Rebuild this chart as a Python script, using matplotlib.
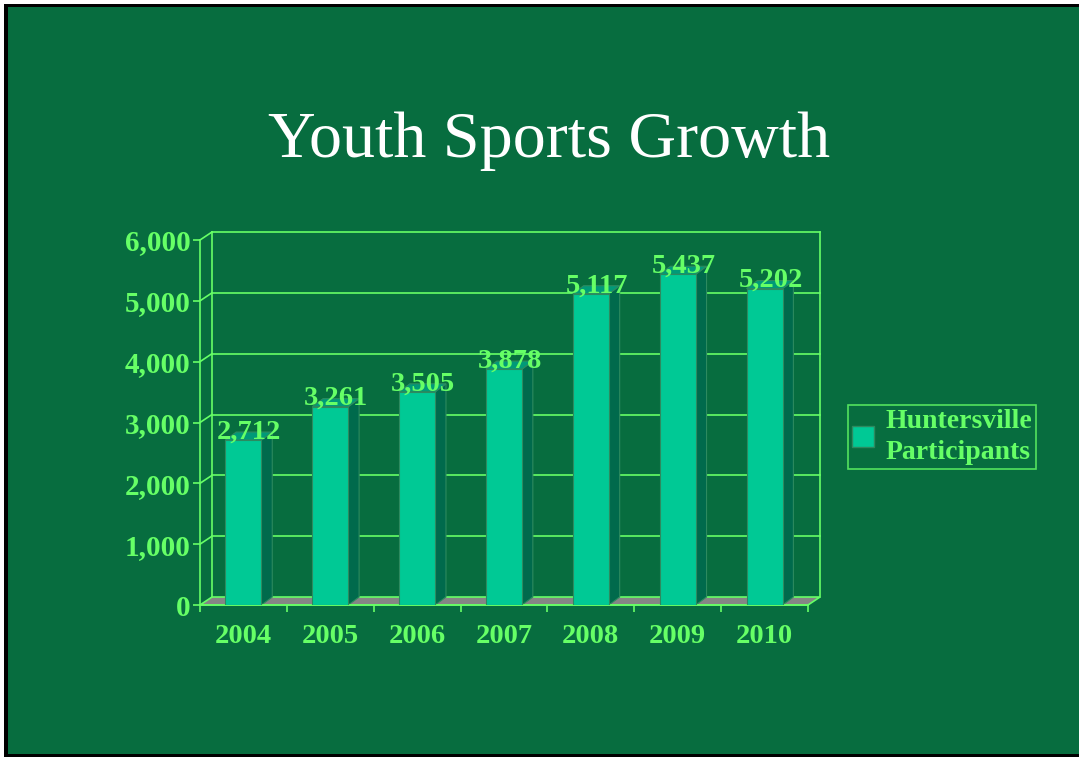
import matplotlib.pyplot as plt
from matplotlib.patches import Polygon, Rectangle, Patch

years = ['2004', '2005', '2006', '2007', '2008', '2009', '2010']
participants = [2712, 3261, 3505, 3878, 5117, 5437, 5202]
yticks = [0, 1000, 2000, 3000, 4000, 5000, 6000]
series_name = 'Huntersville\nParticipants'

bg = '#076d3f'
lime = '#66ff66'
front_c = '#00c995'
side_c = '#006a4c'
top_c = '#009a78'
edge_c = '#2d8a5f'
serif = ['Liberation Serif', 'DejaVu Serif']

fig = plt.figure(figsize=(10.79, 7.57), dpi=100, facecolor='white')
W, H = 1079, 757

# slide: white paper, black frame top/left/bottom, green fill
fig.add_artist(Rectangle((4 / W, 0), 1, 1 - 4 / H, transform=fig.transFigure,
                         facecolor='black', edgecolor='none', zorder=-10))
fig.add_artist(Rectangle((8 / W, 3 / H), 1, 1 - 10 / H, transform=fig.transFigure,
                         facecolor=bg, edgecolor='none', zorder=-9))

# front plane of the 3d box in pixels
x0, x1, yb, yt = 200, 808, 605, 240
ax = fig.add_axes([x0 / W, 1 - yb / H, (x1 - x0) / W, (yb - yt) / H])
ax.set_facecolor('none')
ax.set_xlim(0, 7)
ax.set_ylim(0, 6000)

# depth offset in data units (12 px right, 8 px up)
dx = 12 / ((x1 - x0) / 7)
dy = 8 / (yb - yt) * 6000
n = len(years)

# floor
ax.add_patch(Polygon([(0, 0), (n, 0), (n + dx, dy), (dx, dy)], closed=True,
                     facecolor='#858585', edgecolor=lime, lw=1.2, clip_on=False, zorder=1))
# back wall grid + frame
for t in yticks[1:]:
    ax.plot([dx, n + dx], [t + dy, t + dy], color=lime, lw=1.2, clip_on=False, zorder=1)
    ax.plot([0, dx], [t, t + dy], color=lime, lw=1.2, clip_on=False, zorder=1)
ax.plot([dx, dx], [dy, 6000 + dy], color=lime, lw=1.2, clip_on=False, zorder=1)
ax.plot([n + dx, n + dx], [dy, 6000 + dy], color=lime, lw=1.2, clip_on=False, zorder=1)

# bars
bw = 0.415
xs = [i + 0.5 for i in range(n)]
ax.bar(xs, participants, width=bw, color=front_c, edgecolor=edge_c, lw=0.8, zorder=3)
bd = dx * 0.9
for x, v in zip(xs, participants):
    l, r = x - bw / 2, x + bw / 2
    ax.add_patch(Polygon([(r, 0), (r + bd, dy), (r + bd, v + dy), (r, v)], closed=True,
                         facecolor=side_c, edgecolor=edge_c, lw=0.8, zorder=2, clip_on=False))
    ax.add_patch(Polygon([(l, v), (r, v), (r + bd, v + dy), (l + bd, v + dy)], closed=True,
                         facecolor=top_c, edgecolor=edge_c, lw=0.8, zorder=3, clip_on=False))
    ax.text(x + dx / 2, v + dy, f'{v:,}', ha='center', va='center', color=lime,
            fontsize=20.5, fontweight='bold', family=serif, zorder=5, clip_on=False)

# axes
for s in ['top', 'right']:
    ax.spines[s].set_visible(False)
ax.spines['left'].set_color(lime)
ax.spines['bottom'].set_color(lime)
ax.spines['left'].set_linewidth(1.2)
ax.spines['bottom'].set_linewidth(1.2)
ax.set_yticks(yticks)
ax.set_yticklabels([f'{t:,}' for t in yticks])
ax.set_xticks(range(n + 1))
ax.set_xticklabels([])
ax.set_xticks(xs, minor=True)
ax.set_xticklabels(years, minor=True)
ax.tick_params(axis='y', colors=lime, length=5, width=1.2, pad=2)
ax.tick_params(axis='x', which='major', colors=lime, length=5, width=1.2)
ax.tick_params(axis='x', which='minor', colors=lime, length=0, pad=14)
for lab in ax.get_yticklabels():
    lab.set_family(serif)
    lab.set_fontweight('bold')
    lab.set_fontsize(21)
    lab.set_color(lime)
for lab in ax.get_xticklabels(minor=True):
    lab.set_family(serif)
    lab.set_fontweight('bold')
    lab.set_fontsize(20.5)
    lab.set_color(lime)

# legend
h = Patch(facecolor=front_c, edgecolor=edge_c, label=series_name)
leg = fig.legend(handles=[h], loc='center left', bbox_to_anchor=(848 / W, 1 - 437 / H),
                 frameon=True, fancybox=False, facecolor=bg, edgecolor=lime,
                 prop={'family': serif, 'weight': 'bold', 'size': 20},
                 handlelength=0.8, handleheight=0.8, handletextpad=0.4,
                 borderpad=0.15, borderaxespad=0, labelspacing=0.2)
for t in leg.get_texts():
    t.set_color(lime)
    t.set_linespacing(1.3)
leg.get_frame().set_linewidth(1.2)

fig.text(549 / W, 1 - 141 / H, 'Youth Sports Growth', ha='center', va='center',
         color='white', fontsize=47.5, family=serif)

fig.savefig('out.png', dpi=100, facecolor='white')
